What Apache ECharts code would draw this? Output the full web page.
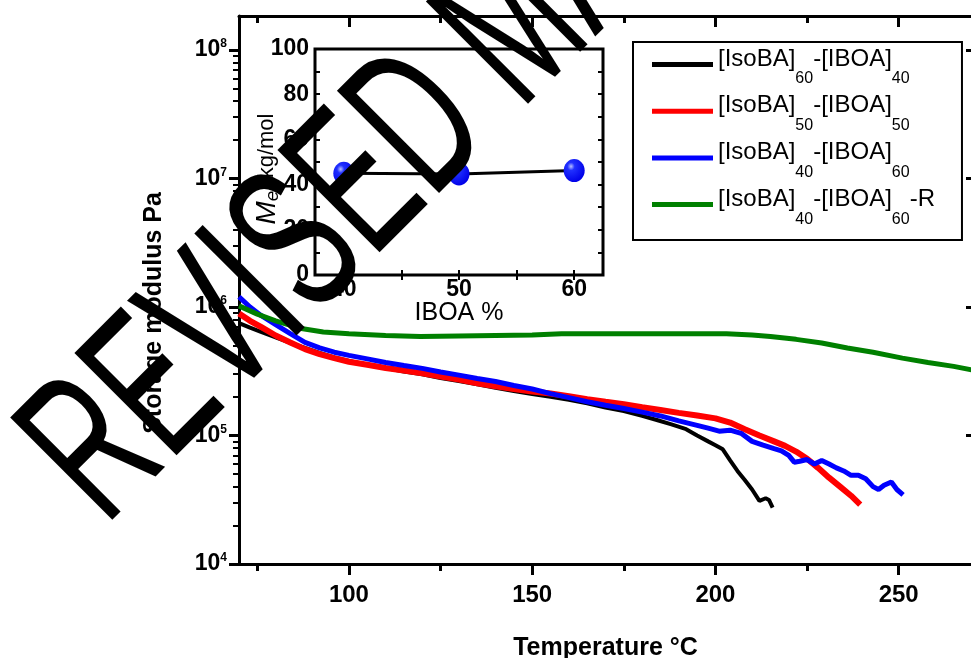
<!DOCTYPE html>
<html><head><meta charset="utf-8">
<script src="https://cdn.jsdelivr.net/npm/echarts@6/dist/echarts.min.js"></script>
<style>html,body{margin:0;padding:0;background:#fff}#c{width:971px;height:658px}</style>
</head><body><div id="c"></div>
<script>
// ---- data ----
const seriesNames = ['[IsoBA]60-[IBOA]40', '[IsoBA]50-[IBOA]50', '[IsoBA]40-[IBOA]60', '[IsoBA]40-[IBOA]60-R'];

const tBlack = [70,73,76,80,84,88,92,96,100,105,110,115,120,125,130,135,140,145,150,155,160,165,170,175,180,184,188,192,195,198,200,202,204,206,208,210,212,213.7,214.6,215.6];
const eBlack = [7.5e5,6.9e5,6.4e5,5.8e5,5.25e5,4.8e5,4.4e5,4.05e5,3.8e5,3.55e5,3.35e5,3.15e5,3.0e5,2.8e5,2.65e5,2.5e5,2.35e5,2.22e5,2.1e5,2.0e5,1.9e5,1.78e5,1.65e5,1.55e5,1.42e5,1.32e5,1.22e5,1.12e5,1.0e5,9.0e4,8.4e4,7.8e4,6.4e4,5.3e4,4.5e4,3.8e4,3.1e4,3.25e4,3.15e4,2.75e4];

const tRed = [70,73,76,80,84,88,92,96,100,105,110,115,120,125,130,135,140,145,150,155,160,165,170,175,180,185,190,195,200,204,208,212,216,219,222,225,228,231,234,237,239.5];
const eRed = [8.9e5,7.8e5,7.0e5,6.0e5,5.3e5,4.7e5,4.3e5,4.0e5,3.75e5,3.55e5,3.35e5,3.2e5,3.05e5,2.88e5,2.72e5,2.55e5,2.42e5,2.3e5,2.2e5,2.12e5,2.02e5,1.92e5,1.83e5,1.75e5,1.66e5,1.58e5,1.5e5,1.43e5,1.36e5,1.26e5,1.12e5,1.0e5,9.0e4,8.3e4,7.5e4,6.6e4,5.6e4,4.7e4,4.0e4,3.4e4,2.9e4];

const tBlue = [70,73,76,80,84,88,92,96,100,105,110,115,120,125,130,135,140,145,150,155,160,165,170,175,180,185,190,195,198,201,204,207,210,213,216,218,220,221.5,223,225,227,229,231,233,235,237,239,241,243,244.5,246,248,249.5,251.2];
const eBlue = [1.2e6,1.0e6,8.6e5,7.3e5,6.2e5,5.3e5,4.8e5,4.45e5,4.2e5,3.95e5,3.7e5,3.5e5,3.33e5,3.12e5,2.95e5,2.78e5,2.63e5,2.45e5,2.3e5,2.12e5,1.97e5,1.83e5,1.72e5,1.62e5,1.52e5,1.42e5,1.3e5,1.2e5,1.14e5,1.08e5,1.1e5,1.04e5,9.0e4,8.4e4,7.9e4,7.6e4,7.0e4,6.2e4,6.3e4,6.5e4,6.0e4,6.4e4,6.0e4,5.6e4,5.3e4,4.9e4,4.9e4,4.6e4,4.0e4,3.8e4,4.1e4,4.35e4,3.8e4,3.45e4];

const tGreen = [70,75,80,87,93,100,110,119.5,130,140,150,158,170,180,190,203,210,215,222,229,236,243,251,258,265,270];
const eGreen = [1.02e6,8.8e5,7.8e5,6.8e5,6.4e5,6.2e5,6.0e5,5.9e5,5.95e5,6.0e5,6.05e5,6.2e5,6.2e5,6.2e5,6.2e5,6.2e5,6.05e5,5.9e5,5.6e5,5.25e5,4.8e5,4.45e5,4.0e5,3.7e5,3.45e5,3.24e5];

const insetIBOA = [40, 50, 60];
const insetMe = [45.0, 44.7, 46.2];

// tick labels
const xMajorTicks = [100, 150, 200, 250];
const xMinorTicks = [75, 125, 175, 225];
const yDecadeExps = [4, 5, 6, 7, 8];
const insetXLabels = [40, 50, 60];
const insetXTicks = [40, 45, 50, 55, 60];
const insetYTicks = [0,10,20,30,40,50,60,70,80,90,100];

// ---- helpers ----
const zip = (a, b) => a.map((v, i) => [v, b[i]]);
const LOGMAX = 8.2646;
const yMinorLog = [];
yDecadeExps.slice(0, 4).forEach(n => { for (let k = 2; k <= 9; k++) yMinorLog.push(n + Math.log10(k)); });

const FONT = 'Liberation Sans';
const black = '#000';
const axLine = {lineStyle: {color: black, width: 3}};

const chart = echarts.init(document.getElementById('c'), null, {renderer: 'canvas'});

const legendRich = {
  m: {fontSize: 24, fontFamily: FONT, color: black, lineHeight: 35, verticalAlign: 'top'},
  s: {fontSize: 16, fontFamily: FONT, color: black, lineHeight: 16, padding: [24, 0, 0, 0], verticalAlign: 'top'}
};
function legendFmt(name) {
  const parts = name.split(/\](\d+)/);
  let out = '';
  parts.forEach((p, i) => {
    if (!p) return;
    if (i % 2 === 1) out += '{s|' + p + '}';
    else out += '{m|' + p + (i < parts.length - 1 ? ']' : '') + '}';
  });
  return out;
}

const option = {
  animation: false,
  backgroundColor: '#fff',
  grid: [
    {left: 239, top: 16, width: 733, height: 548, containLabel: false, outerBoundsMode: 'none'},
    {left: 315, top: 49, width: 288, height: 226, show: true, backgroundColor: '#fff', borderColor: black, borderWidth: 3, outerBoundsMode: 'none'}
  ],
  legend: {
    data: seriesNames,
    orient: 'vertical', left: 633, top: 42,
    padding: [5, 27, 13, 19],
    itemWidth: 61, itemHeight: 5, itemGap: 6.7,
    icon: 'rect',
    borderColor: black, borderWidth: 2, backgroundColor: '#fff',
    selectedMode: false,
    formatter: legendFmt,
    textStyle: {rich: legendRich, fontFamily: FONT, fontSize: 24, color: black}
  },
  xAxis: [
    {gridIndex: 0, type: 'value', min: 70, max: 270, position: 'bottom',
     axisLine: axLine, splitLine: {show: false},
     axisTick: {customValues: xMajorTicks, length: 11, lineStyle: {width: 3, color: black}},
     axisLabel: {customValues: xMajorTicks, margin: 19, fontSize: 24, fontWeight: 'bold', fontFamily: FONT, color: black},
     name: 'Temperature °C', nameLocation: 'middle', nameGap: 72, nameMoveOverlap: false,
     nameTextStyle: {fontSize: 25, fontWeight: 'bold', fontFamily: FONT, color: black}},
    {gridIndex: 0, type: 'value', min: 70, max: 270, position: 'bottom',
     axisLine: {show: false}, splitLine: {show: false}, axisLabel: {show: false},
     axisTick: {customValues: xMinorTicks, length: 7, lineStyle: {width: 3, color: black}}},
    {gridIndex: 0, type: 'value', min: 70, max: 270, position: 'top',
     axisLine: axLine, splitLine: {show: false}, axisLabel: {show: false},
     axisTick: {customValues: xMajorTicks, inside: true, length: 11, lineStyle: {width: 3, color: black}}},
    {gridIndex: 0, type: 'value', min: 70, max: 270, position: 'top',
     axisLine: {show: false}, splitLine: {show: false}, axisLabel: {show: false},
     axisTick: {customValues: xMinorTicks, inside: true, length: 7, lineStyle: {width: 3, color: black}}},
    {gridIndex: 1, type: 'value', min: 37.5, max: 62.5, position: 'bottom',
     axisLine: {show: false}, splitLine: {show: false},
     axisTick: {customValues: insetXTicks, inside: true, length: 5, lineStyle: {width: 2, color: black}},
     axisLabel: {customValues: insetXLabels, margin: 3, fontSize: 23, fontWeight: 'bold', fontFamily: FONT, color: black},
     name: 'IBOA %', nameLocation: 'middle', nameGap: 26, nameMoveOverlap: false,
     nameTextStyle: {fontSize: 25, fontFamily: FONT, color: black}},
    {gridIndex: 1, type: 'value', min: 37.5, max: 62.5, position: 'top',
     axisLine: {show: false}, splitLine: {show: false}, axisLabel: {show: false},
     axisTick: {customValues: insetXTicks, inside: true, length: 5, lineStyle: {width: 2, color: black}}}
  ],
  yAxis: [
    {gridIndex: 0, type: 'log', logBase: 10, min: 1e4, max: Math.pow(10, LOGMAX), position: 'left',
     axisLine: axLine, axisTick: {show: false}, axisLabel: {show: false}, splitLine: {show: false},
     name: 'Storage modulus Pa', nameLocation: 'middle', nameGap: 72, nameMoveOverlap: false,
     nameTextStyle: {fontSize: 25, fontWeight: 'bold', fontFamily: FONT, color: black, padding: [0, 46, 0, 0]}},
    {gridIndex: 0, type: 'value', min: 4, max: LOGMAX, position: 'left',
     axisLine: {show: false}, splitLine: {show: false},
     axisTick: {customValues: yDecadeExps, length: 10, lineStyle: {width: 3, color: black}},
     axisLabel: {customValues: yDecadeExps, margin: 12, formatter: v => '{b|10}{p|' + Math.round(v) + '}',
       rich: {b: {fontSize: 23, fontWeight: 'bold', fontFamily: FONT, color: black, lineHeight: 24},
              p: {fontSize: 12, fontWeight: 'bold', fontFamily: FONT, color: black, lineHeight: 12, verticalAlign: 'top'}}}},
    {gridIndex: 0, type: 'value', min: 4, max: LOGMAX, position: 'left',
     axisLine: {show: false}, splitLine: {show: false}, axisLabel: {show: false},
     axisTick: {customValues: yMinorLog, length: 6, lineStyle: {width: 2, color: black}}},
    {gridIndex: 0, type: 'value', min: 4, max: LOGMAX, position: 'right',
     axisLine: {show: false}, splitLine: {show: false}, axisLabel: {show: false},
     axisTick: {customValues: yDecadeExps, inside: true, length: 6, lineStyle: {width: 3, color: black}}},
    {gridIndex: 1, type: 'value', min: 0, max: 100, interval: 20, position: 'left',
     axisLine: {show: false}, splitLine: {show: false},
     axisTick: {customValues: insetYTicks, inside: true, length: 5, lineStyle: {width: 2, color: black}},
     axisLabel: {margin: 6, fontSize: 23, fontWeight: 'bold', fontFamily: FONT, color: black},
     name: '{i|M}{e|e}{n|  kg/mol}', nameLocation: 'middle', nameGap: 34, nameMoveOverlap: false,
     nameTextStyle: {fontFamily: FONT, color: black, padding: [0, 14, 0, 0], rich: {
       i: {fontSize: 28, fontStyle: 'italic', fontFamily: FONT, color: black, lineHeight: 28},
       e: {fontSize: 19, fontStyle: 'italic', fontFamily: FONT, color: black, lineHeight: 19, padding: [12, 0, 0, 0]},
       n: {fontSize: 22, fontFamily: FONT, color: black, lineHeight: 28}}}},
    {gridIndex: 1, type: 'value', min: 0, max: 100, position: 'right',
     axisLine: {show: false}, splitLine: {show: false}, axisLabel: {show: false},
     axisTick: {customValues: insetYTicks, inside: true, length: 5, lineStyle: {width: 2, color: black}}}
  ],
  series: [
    {name: seriesNames[0], type: 'line', xAxisIndex: 0, yAxisIndex: 0, data: zip(tBlack, eBlack),
     showSymbol: false, symbol: 'none', color: '#000000', lineStyle: {width: 4, color: '#000000'}},
    {name: seriesNames[1], type: 'line', xAxisIndex: 0, yAxisIndex: 0, data: zip(tRed, eRed),
     showSymbol: false, symbol: 'none', color: '#ff0000', lineStyle: {width: 6, color: '#ff0000'}},
    {name: seriesNames[2], type: 'line', xAxisIndex: 0, yAxisIndex: 0, data: zip(tBlue, eBlue),
     showSymbol: false, symbol: 'none', color: '#0000ff', lineStyle: {width: 5, color: '#0000ff'}},
    {name: seriesNames[3], type: 'line', xAxisIndex: 0, yAxisIndex: 0, data: zip(tGreen, eGreen),
     showSymbol: false, symbol: 'none', color: '#008000', lineStyle: {width: 5, color: '#008000'}},
    {name: 'Me', type: 'line', xAxisIndex: 4, yAxisIndex: 4, data: zip(insetIBOA, insetMe), z: 5,
     symbol: 'circle', symbolSize: [21, 23],
     lineStyle: {color: '#000', width: 3},
     itemStyle: {color: {type: 'radial', x: 0.35, y: 0.32, r: 0.7, colorStops: [
        {offset: 0, color: '#b8c0ff'}, {offset: 0.25, color: '#2030ff'}, {offset: 1, color: '#0000e8'}]}}}
  ],
  graphic: [
    {type: 'text', x: 64, y: 486, rotation: Math.PI / 4, scaleX: 0.6, scaleY: 1, z: 100, silent: true,
     style: {text: 'REVISED MANUSCRIPT', fontSize: 210, fontFamily: FONT, fill: '#000',
             textAlign: 'left', textVerticalAlign: 'middle'}}
  ]
};
chart.setOption(option);
</script>
</body></html>
